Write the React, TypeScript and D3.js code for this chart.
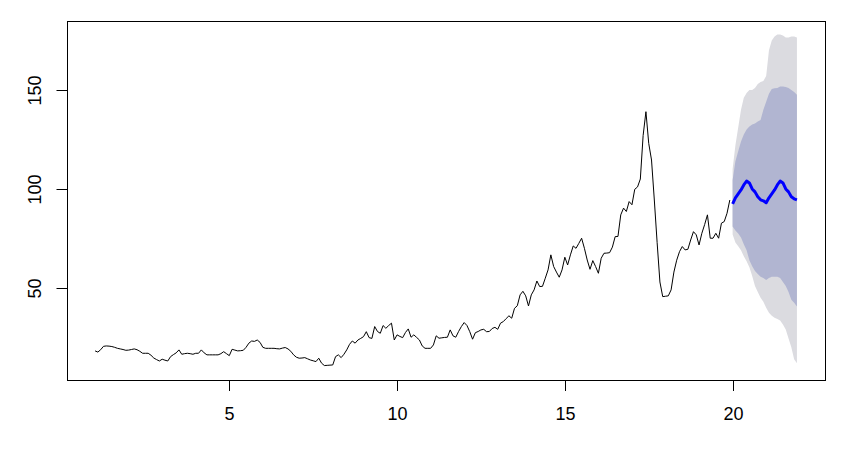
import React from "react";
import * as d3 from "d3";

const startTime = 1;
const frequency = 12;

const history: number[] = [
  18.2, 17.6, 18.8, 20.5, 20.7, 20.6, 20.4, 20.0, 19.5, 19.2, 18.9, 18.5,
  18.6, 18.9, 19.2, 18.8, 18.0, 17.0, 17.0, 17.0, 16.0, 14.6, 13.8, 13.1,
  14.0, 13.5, 13.1, 15.3, 16.3, 17.2, 18.7, 16.5, 16.8, 17.0, 16.8, 16.5,
  17.0, 17.0, 18.7, 17.2, 16.2, 16.2, 16.2, 16.2, 16.2, 16.8, 17.8, 16.8,
  15.8, 19.0, 18.6, 18.2, 18.3, 18.5, 20.0, 22.1, 23.2, 23.0, 23.7, 22.5,
  20.0, 19.5, 19.5, 19.5, 19.5, 19.3, 19.2, 19.6, 19.9, 19.2, 18.0, 16.2,
  15.0, 14.5, 14.6, 14.8, 14.2, 13.6, 13.2, 12.8, 14.5, 12.0, 10.8, 10.9,
  11.0, 11.1, 15.3, 16.2, 14.8, 16.5, 18.7, 21.5, 23.2, 22.1, 23.7, 24.5,
  25.4, 27.9, 24.9, 24.5, 30.5, 28.0, 27.1, 31.0, 29.6, 31.0, 32.2, 23.7,
  26.3, 25.5, 24.9, 27.5, 29.3, 25.1, 26.3, 25.0, 23.7, 20.7, 19.5, 19.5,
  19.5, 21.2, 25.8, 24.6, 24.8, 25.0, 25.1, 28.8, 25.8, 25.1, 28.0, 30.5,
  32.5, 31.0, 27.9, 24.1, 27.4, 28.0, 28.8, 29.1, 27.9, 28.0, 29.5, 30.1,
  29.1, 32.2, 33.0, 34.5, 35.9, 34.7, 39.7, 41.0, 46.5, 48.3, 46.0, 40.9,
  46.5, 49.0, 53.5, 50.7, 50.8, 54.9, 59.1, 66.7, 60.8, 58.0, 55.4, 59.1,
  65.5, 61.6, 66.7, 71.2, 70.0, 72.5, 75.1, 70.0, 64.1, 59.4, 63.8, 60.8,
  57.4, 65.0, 67.5, 67.6, 67.8, 70.6, 75.9, 76.0, 86.9, 90.3, 88.6, 93.6,
  92.0, 99.8, 101, 105, 127, 139, 123, 114.6, 94.4, 73, 53, 45.6,
  45.8, 46.0, 49, 58, 64, 68.3, 70.9, 69.2, 69.5, 74.2, 78.4, 76.8,
  71.7, 77.6, 82, 86.9, 75.1, 75.1, 77.6, 75.1, 82.7, 83.5, 87.7, 94.4,
];

const forecastStart = 20;
const forecastMean: number[] = [
  92.5, 95.5, 97.5, 99.5, 102, 104, 103, 100, 98.5, 96, 94.5, 94,
  93, 95.5, 97.5, 99.5, 102, 104, 103, 100, 98.5, 96, 95, 94.5,
];
const hi95: number[] = [
  110, 122, 131, 140, 146, 148.5, 150, 150, 151, 153, 154, 154.5,
  157, 170, 175, 177, 178, 178, 177.5, 176.5, 176.5, 177, 177, 176.5,
];
const hi80: number[] = [
  104.5, 114, 119, 124, 127.5, 130, 131.5, 132.5, 133, 134, 134.8, 140,
  144, 148, 150.5, 150.8, 151, 151.7, 151.7, 151.5, 151, 150, 149, 147.5,
];
const lo80: number[] = [
  81, 79, 77.5, 75.5, 72, 69, 64, 61, 58.5, 57, 55.7, 55,
  54, 55, 55.7, 55.7, 55.7, 55, 53, 51, 48, 44, 42.5, 40.6,
];
const lo95: number[] = [
  77, 73, 71, 69, 66, 63.5, 60.5, 56, 51, 48, 45, 43,
  40, 37.5, 36, 35, 34.3, 33.5, 31.5, 29, 24.5, 20, 14, 12,
];

const xTicks = [5, 10, 15, 20];
const yTicks = [50, 100, 150];

export default function App() {
  const W = 859;
  const H = 451;
  const left = 67, right = 825, top = 21, bottom = 380;

  const tEnd = forecastStart + (forecastMean.length - 1) / frequency;
  const xr = tEnd - startTime;
  const x = d3
    .scaleLinear()
    .domain([startTime - 0.04 * xr, tEnd + 0.04 * xr])
    .range([left, right]);
  const y = d3.scaleLinear().domain([3.5, 184.8]).range([bottom, top]);

  const histPts = history.map((v, i) => [startTime + i / frequency, v] as [number, number]);
  const fcT = forecastMean.map((_, j) => forecastStart + j / frequency);

  const line = d3
    .line<[number, number]>()
    .x((d) => x(d[0]))
    .y((d) => y(d[1]));

  const area = (lo: number[], hi: number[]) =>
    d3
      .area<number>()
      .x((_, j) => x(fcT[j]))
      .y0((_, j) => y(lo[j]))
      .y1((_, j) => y(hi[j]))(fcT.map((_, j) => j)) || "";

  const fcPts = forecastMean.map((v, j) => [fcT[j], v] as [number, number]);

  const font = "'Liberation Sans', Arial, Helvetica, sans-serif";

  return (
    <svg width={W} height={H} style={{ position: "absolute", left: 0, top: 0, background: "#fff" }}>
      <rect x={0} y={0} width={W} height={H} fill="#fff" />
      <path d={area(lo95, hi95)} fill="#DBDBE0" stroke="none" />
      <path d={area(lo80, hi80)} fill="#B1B5D1" stroke="none" />
      <path d={line(histPts) || ""} fill="none" stroke="#000" strokeWidth={1} />
      <path d={line(fcPts) || ""} fill="none" stroke="#0000FF" strokeWidth={3} strokeLinejoin="round" />
      <rect
        x={left + 0.5}
        y={top + 0.5}
        width={right - left}
        height={bottom - top}
        fill="none"
        stroke="#000"
        strokeWidth={1}
      />
      {/* x axis */}
      <line x1={Math.round(x(xTicks[0])) + 0.5} x2={Math.round(x(xTicks[xTicks.length - 1])) + 0.5} y1={bottom + 0.5} y2={bottom + 0.5} stroke="#000" />
      {xTicks.map((t) => {
        const px = Math.round(x(t)) + 0.5;
        return (
          <g key={"x" + t}>
            <line x1={px} x2={px} y1={bottom + 0.5} y2={bottom + 11} stroke="#000" />
            <text x={px} y={420} fontFamily={font} fontSize={18} textAnchor="middle" fill="#000">
              {t}
            </text>
          </g>
        );
      })}
      {/* y axis */}
      <line x1={left + 0.5} x2={left + 0.5} y1={Math.round(y(yTicks[0])) + 0.5} y2={Math.round(y(yTicks[yTicks.length - 1])) + 0.5} stroke="#000" />
      {yTicks.map((v) => {
        const py = Math.round(y(v)) + 0.5;
        return (
          <g key={"y" + v}>
            <line x1={left - 10.5} x2={left + 0.5} y1={py} y2={py} stroke="#000" />
            <text
              transform={`translate(41,${py}) rotate(-90)`}
              fontFamily={font}
              fontSize={18}
              textAnchor="middle"
              fill="#000"
            >
              {v}
            </text>
          </g>
        );
      })}
    </svg>
  );
}
